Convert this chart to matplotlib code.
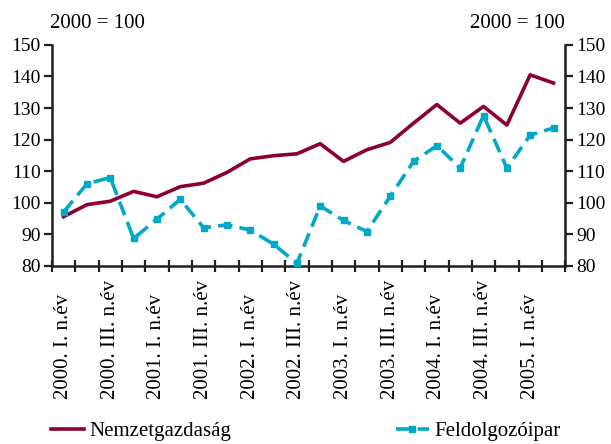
import numpy as np
import matplotlib.pyplot as plt

plt.rcParams['font.family'] = ['Liberation Serif', 'DejaVu Serif']

quarters = ['2000. I. n.év', '2000. II. n.év', '2000. III. n.év', '2000. IV. n.év',
            '2001. I. n.év', '2001. II. n.év', '2001. III. n.év', '2001. IV. n.év',
            '2002. I. n.év', '2002. II. n.év', '2002. III. n.év', '2002. IV. n.év',
            '2003. I. n.év', '2003. II. n.év', '2003. III. n.év', '2003. IV. n.év',
            '2004. I. n.év', '2004. II. n.év', '2004. III. n.év', '2004. IV. n.év',
            '2005. I. n.év', '2005. II. n.év']
nemzet = [95.6, 99.4, 100.5, 103.6, 101.9, 105.1, 106.2, 109.6, 113.9, 114.9, 115.5,
          118.7, 113.1, 116.8, 119.1, 125.2, 131.1, 125.2, 130.5, 124.6, 140.5, 137.9]
feldolg = [97.1, 106.0, 108.0, 88.7, 94.8, 101.1, 92.1, 93.0, 91.4, 86.9, 80.8,
           99.0, 94.4, 90.9, 102.0, 113.1, 118.1, 111.0, 127.6, 111.0, 121.4, 123.7]

red = '#8c0033'
cyan = '#00a9c8'
dark = '#231f20'

fig = plt.figure(figsize=(6.11, 4.44), dpi=100)
ax = fig.add_axes([0.085, 0.401, 0.84, 0.498])

x = np.arange(len(quarters))
ax.plot(x, nemzet, color=red, lw=2.6, label='Nemzetgazdaság', zorder=3)
ax.plot(x, feldolg, color=cyan, lw=2.6, dashes=(4, 2), marker='s', markersize=5,
        label='Feldolgozóipar', zorder=3)

ax.set_xlim(-0.5, len(quarters) - 0.5)
ax.set_ylim(80, 150)
ax.set_yticks(np.arange(80, 151, 10))

# tick marks at category boundaries, labels on every other category
ax.set_xticks(np.arange(-0.5, len(quarters), 1))
ax.set_xticklabels([])
ax.set_xticks(x[::2], minor=True)
ax.set_xticklabels(quarters[::2], minor=True, rotation=90, fontsize=15, va='bottom')
# labels are aligned at their lower end, about 134 px below the axis
ax.tick_params(axis='x', which='minor', length=0, pad=96)
ax.tick_params(axis='x', which='major', direction='inout', length=8, width=1.6, color=dark)
ax.tick_params(axis='y', direction='out', length=6, width=1.6, color=dark,
               labelsize=14, right=True, labelright=True, pad=2)

ax.spines['top'].set_visible(False)
for s in ['left', 'right', 'bottom']:
    ax.spines[s].set_linewidth(1.8)
    ax.spines[s].set_color(dark)

fig.text(0.082, 0.948, '2000 = 100', fontsize=15, ha='left', va='center')
fig.text(0.925, 0.948, '2000 = 100', fontsize=15, ha='right', va='center')

fig.legend(loc='center left', bbox_to_anchor=(0.052, 0.028), ncol=2, frameon=False,
           fontsize=15, handlelength=1.6, handletextpad=0.25, columnspacing=7.9)

fig.savefig('out.png', dpi=100)
